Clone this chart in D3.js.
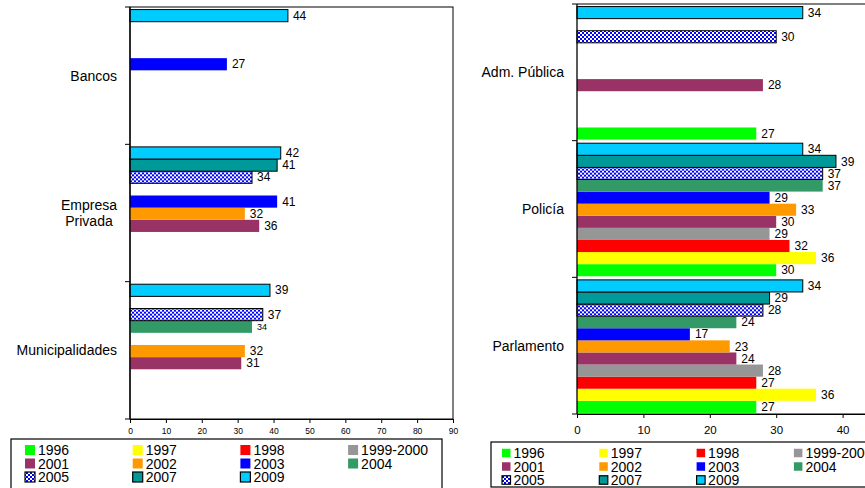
<!DOCTYPE html>
<html><head><meta charset="utf-8">
<script src="https://cdn.jsdelivr.net/npm/d3@7"></script>
<style>
html,body{margin:0;padding:0;background:#fff;}
svg{display:block;font-family:"Liberation Sans",Arial,sans-serif;}
</style></head>
<body>
<svg id="chart" width="865" height="488"></svg>
<script>
// ---- data ----
const years = ["1996","1997","1998","1999-2000","2001","2002","2003","2004","2005","2007","2009"];
const colors = ["#00FF00","#FFFF00","#FF0000","#969696","#993366","#FF9900","#0000FF","#339966","url(#checker)","#009999","#00CCFF"];
const outlined = ["2005","2007","2009"];

const leftCategories = ["Bancos","Empresa Privada","Municipalidades"];
const leftCategoryLines = [["Bancos"],["Empresa","Privada"],["Municipalidades"]];
const bancos          = [null,null,null,null,null,null,27,null,null,null,44];
const empresaPrivada  = [null,null,null,null,36,32,41,null,34,41,42];
const municipalidades = [null,null,null,null,31,32,null,34,37,null,39];
const leftTicks = [0,10,20,30,40,50,60,70,80,90];

const rightCategories = ["Adm. Pública","Policía","Parlamento"];
const rightCategoryLines = [["Adm. Pública"],["Policía"],["Parlamento"]];
const admPublica = [27,null,null,null,28,null,null,null,30,null,34];
const policia    = [30,36,32,29,30,33,29,37,37,39,34];
const parlamento = [27,36,27,28,24,23,17,24,28,29,34];
const rightTicks = [0,10,20,30,40];

// labels drawn in a smaller font in the original
const smallLabels = ["Municipalidades|2004"];

const svg = d3.select("#chart");
const defs = svg.append("defs");
const pat = defs.append("pattern").attr("id","checker").attr("patternUnits","userSpaceOnUse")
  .attr("width",4).attr("height",4);
pat.append("rect").attr("width",4).attr("height",4).attr("fill","#0000FF");
pat.append("rect").attr("x",0).attr("y",0).attr("width",2).attr("height",2).attr("fill","#fff");
pat.append("rect").attr("x",2).attr("y",2).attr("width",2).attr("height",2).attr("fill","#fff");

const colorOf = d3.scaleOrdinal().domain(years).range(colors);

function panel(cfg){
  const g = svg.append("g");
  const x = d3.scaleLinear().domain(cfg.xDomain).range([cfg.x0, cfg.x1]);
  const y = d3.scaleBand().domain(cfg.categories).range([cfg.yTop, cfg.yBottom]).padding(0);
  const inner = d3.scaleBand().domain(years.slice().reverse()).range([0, y.bandwidth()])
    .paddingInner(0).paddingOuter(0.15).align(0.7);

  // frame
  if (cfg.box) {
    g.append("rect").attr("x", cfg.x0).attr("y", cfg.yTop)
      .attr("width", cfg.x1 - cfg.x0).attr("height", cfg.yBottom - cfg.yTop)
      .attr("fill","none").attr("stroke","#000").attr("stroke-width",1);
  } else {
    g.append("line").attr("x1", cfg.x0).attr("x2", 870).attr("y1", cfg.yTop).attr("y2", cfg.yTop)
      .attr("stroke","#000");
  }

  // bars
  cfg.categories.forEach((cat, ci) => {
    const vals = cfg.values[ci];
    const data = years.map((yr, i) => ({cat, yr, v: vals[i]})).filter(d => d.v != null);
    const cg = g.append("g").attr("transform", `translate(0,${y(cat)})`);
    cg.selectAll("rect").data(data).join("rect")
      .attr("x", x(0)).attr("y", d => inner(d.yr))
      .attr("width", d => x(d.v) - x(0)).attr("height", inner.bandwidth())
      .attr("fill", d => colorOf(d.yr))
      .attr("stroke", d => outlined.includes(d.yr) ? "#000" : "none")
      .attr("stroke-width", 1);
    cg.selectAll("text").data(data).join("text")
      .attr("x", d => x(d.v) + 5).attr("y", d => inner(d.yr) + inner.bandwidth()/2)
      .attr("dy","0.35em")
      .attr("font-size", d => smallLabels.includes(d.cat + "|" + d.yr) ? 9 : cfg.valueFont)
      .attr("fill","#000")
      .text(d => d.v);
  });

  // axes
  const xAxis = d3.axisBottom(x).tickValues(cfg.ticks).tickSize(4).tickSizeOuter(0);
  const xa = g.append("g").attr("transform", `translate(0,${cfg.yBottom})`).call(xAxis);
  xa.select(".domain").attr("stroke","#000");
  if (!cfg.box) {
    g.append("line").attr("x1", cfg.x0).attr("x2", 870).attr("y1", cfg.yBottom).attr("y2", cfg.yBottom)
      .attr("stroke","#000");
  }
  xa.selectAll("text").attr("font-size", cfg.tickFont).attr("font-family","inherit")
    .attr("fill","#000").attr("dy", cfg.tickDy);

  const yg = g.append("g");
  yg.append("line").attr("x1", x(0)).attr("x2", x(0)).attr("y1", cfg.yTop).attr("y2", cfg.yBottom)
    .attr("stroke","#000").attr("stroke-width",1.3);
  const bounds = cfg.categories.map(c => y(c)).concat([cfg.yBottom]);
  yg.selectAll("line.tk").data(bounds).join("line").attr("class","tk")
    .attr("x1", x(0) - 5).attr("x2", x(0)).attr("y1", d => d).attr("y2", d => d)
    .attr("stroke","#000");

  // category labels
  cfg.categories.forEach((cat, ci) => {
    const lines = cfg.lines[ci];
    const cy = y(cat) + y.bandwidth()/2;
    const lh = 16;
    const t = g.append("text").attr("font-size", cfg.catFont).attr("fill","#000");
    lines.forEach((ln, li) => {
      t.append("tspan").attr("y", cy + (li - (lines.length-1)/2) * lh).attr("dy","0.35em").text(ln);
    });
    const widths = [];
    t.selectAll("tspan").each(function(){ widths.push(this.getComputedTextLength()); });
    const maxW = d3.max(widths);
    const right = x(0) - 13;
    t.attr("text-anchor","middle");
    t.selectAll("tspan").attr("x", right - maxW/2);
  });
}

panel({
  categories: leftCategories, lines: leftCategoryLines,
  values: [bancos, empresaPrivada, municipalidades],
  xDomain: [0,90], x0: 130, x1: 453, yTop: 7, yBottom: 419,
  ticks: leftTicks, box: true, valueFont: 12, tickFont: 8.5, tickDy: "0.9em", catFont: 14
});
panel({
  categories: rightCategories, lines: rightCategoryLines,
  values: [admPublica, policia, parlamento],
  xDomain: [0,50], x0: 577, x1: 909, yTop: 4, yBottom: 414,
  ticks: rightTicks, box: false, valueFont: 12, tickFont: 11.5, tickDy: "1.1em", catFont: 14
});

// legends
const legendRows = [
  ["1996","1997","1998","1999-2000"],
  ["2001","2002","2003","2004"],
  ["2005","2007","2009"]
];
function legend(cfg){
  const g = svg.append("g");
  g.append("rect").attr("x", cfg.bx).attr("y", cfg.by).attr("width", cfg.bw).attr("height", cfg.bh)
    .attr("fill","#fff").attr("stroke","#000").attr("stroke-width",1.2);
  legendRows.forEach((row, ri) => {
    row.forEach((yr, ci) => {
      const sx = cfg.sx + ci * cfg.colStep;
      const sy = cfg.rowY + ri * cfg.rowStep;
      g.append("rect").attr("x", sx).attr("y", sy - cfg.sw/2).attr("width", cfg.sw).attr("height", cfg.sw)
        .attr("fill", colorOf(yr))
        .attr("stroke", outlined.includes(yr) ? "#000" : "none").attr("stroke-width",1.2);
      g.append("text").attr("x", sx + cfg.sw + 3).attr("y", sy).attr("dy","0.36em")
        .attr("font-size", cfg.font).attr("fill","#000").text(yr);
    });
  });
}
legend({bx: 11, by: 439, bw: 431, bh: 60, sx: 25, colStep: 107.7, rowY: 450, rowStep: 13.5, sw: 10, font: 14});
legend({bx: 491, by: 442, bw: 400, bh: 45, sx: 502, colStep: 97.3, rowY: 453, rowStep: 13.5, sw: 8.5, font: 14});
</script>
</body></html>
